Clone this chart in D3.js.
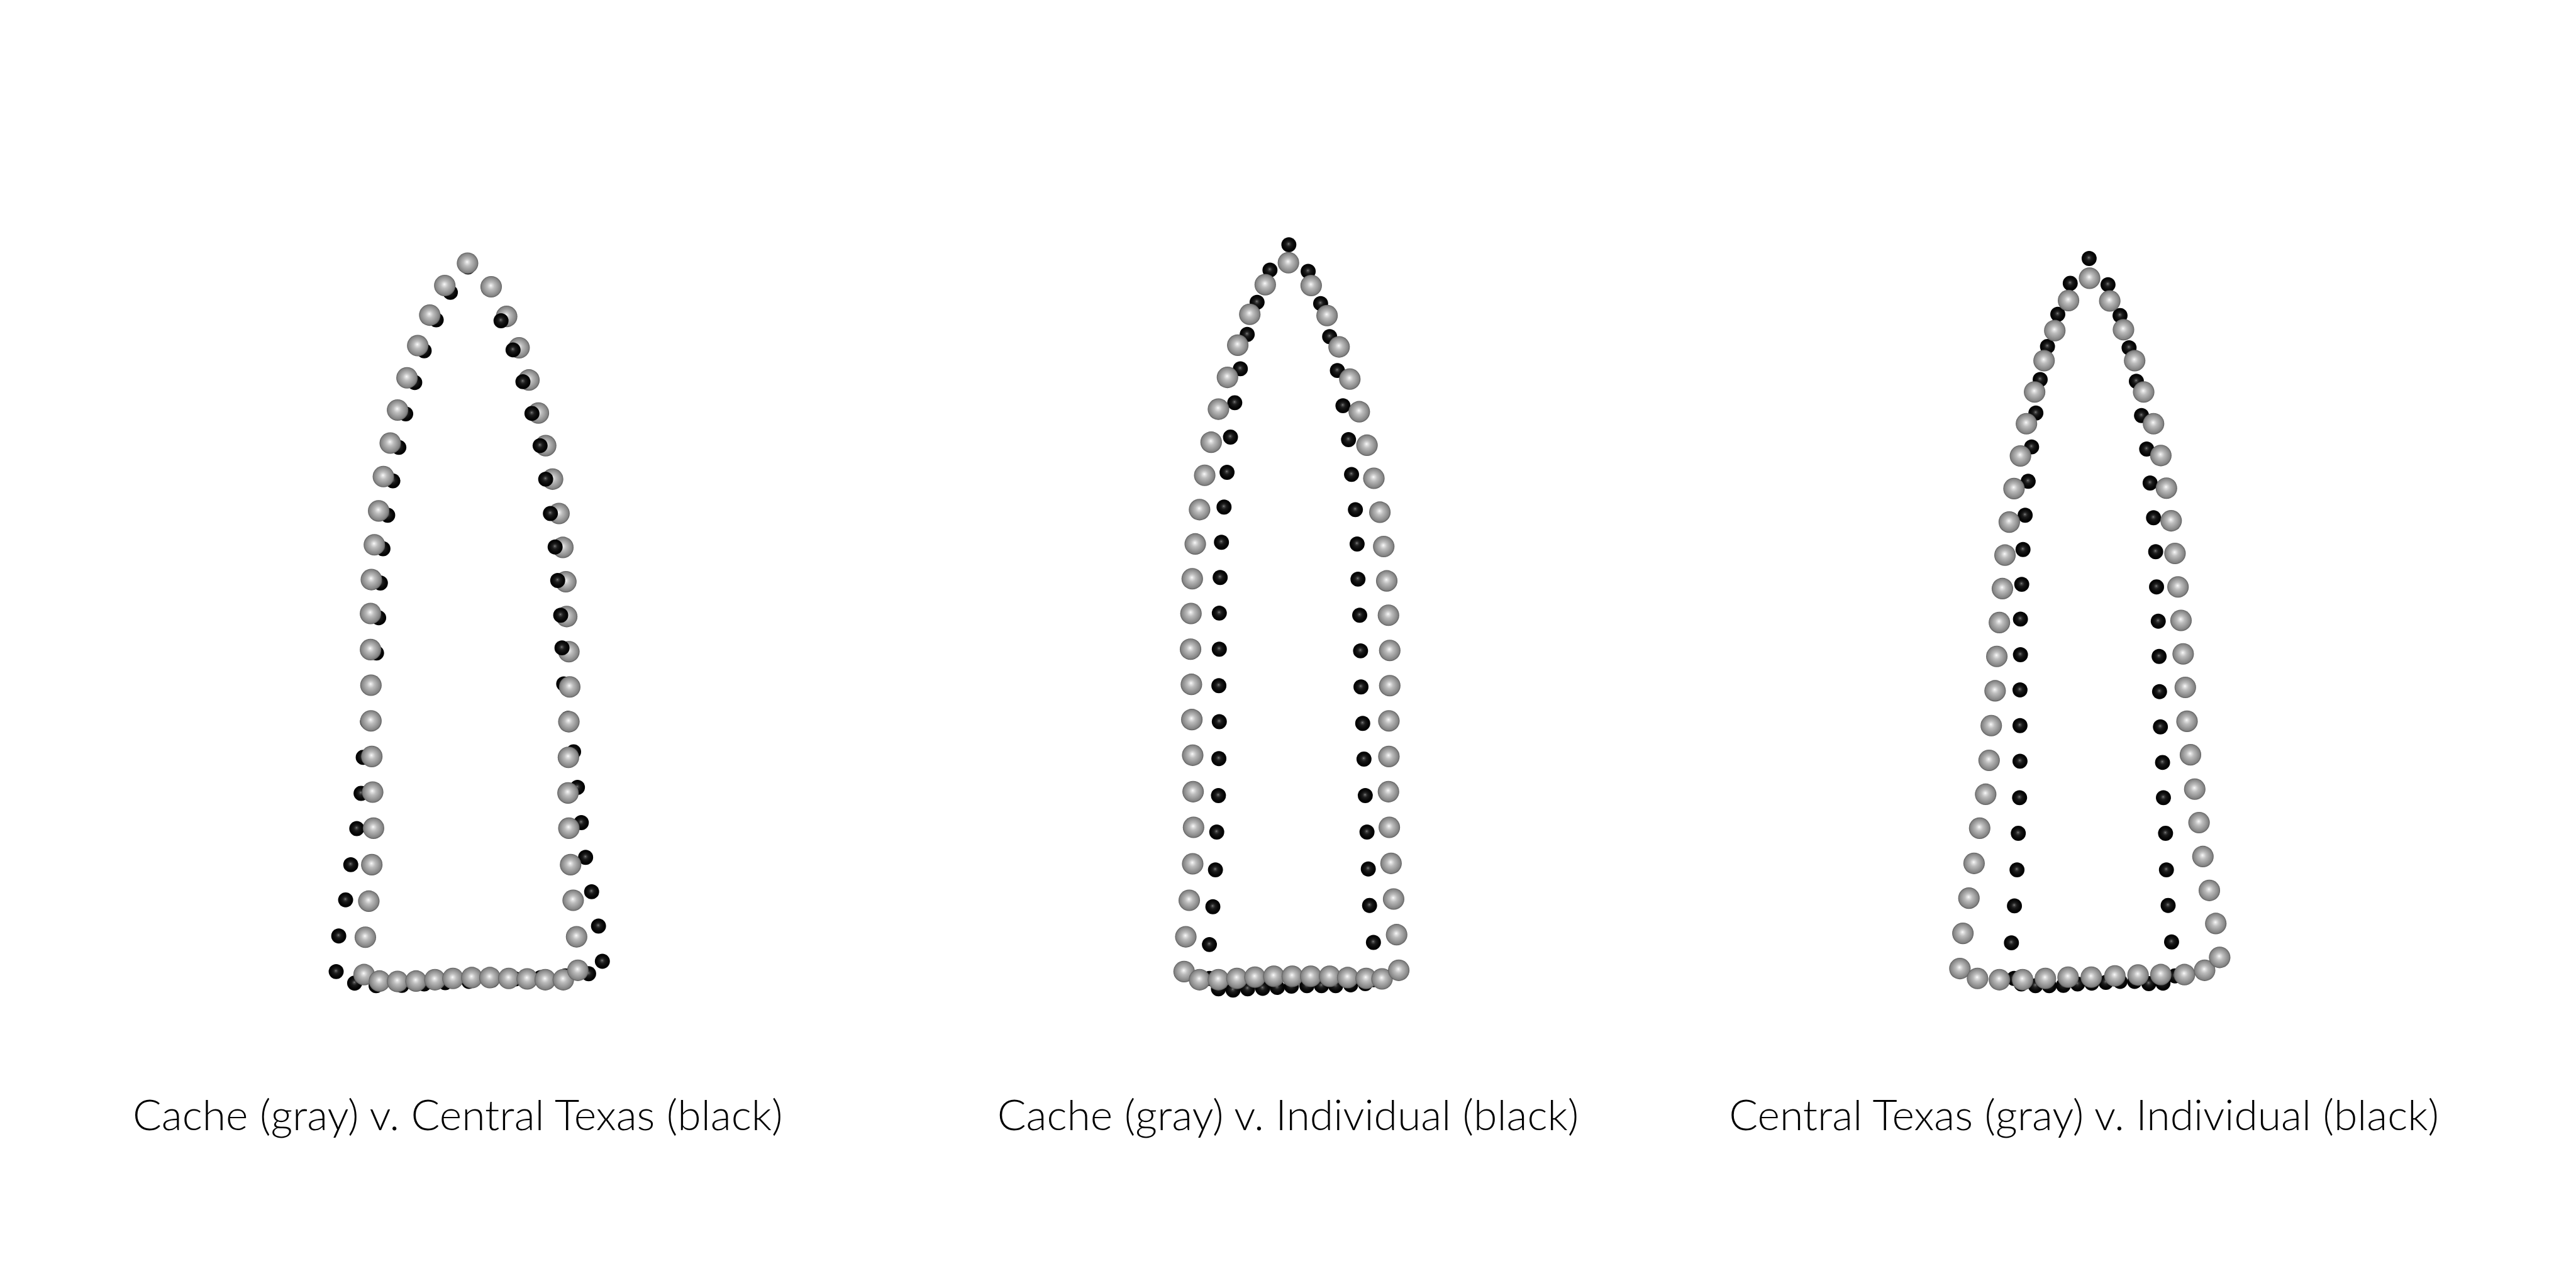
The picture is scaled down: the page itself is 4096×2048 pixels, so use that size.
<!DOCTYPE html>
<html>
<head>
<meta charset="utf-8">
<script src="https://cdn.jsdelivr.net/npm/d3@7"></script>
<style>
  html, body { margin: 0; padding: 0; background: #ffffff; }
  svg { display: block; }
</style>
</head>
<body>
<script>
// ---------------- DATA (landmark shape coordinates, outline order:
// apex, left side downwards, base left->right, right side upwards) ----------------
const panelTitles = [
  "Cache (gray) v. Central Texas (black)",
  "Cache (gray) v. Individual (black)",
  "Central Texas (gray) v. Individual (black)"
];

const p1Gray = [
  [-0.001,0.837],
  [-0.054,0.785],[-0.089,0.716],[-0.117,0.645],[-0.142,0.570],[-0.164,0.495],[-0.181,0.418],[-0.197,0.340],
  [-0.208,0.260],[-0.218,0.181],[-0.225,0.100],[-0.227,0.021],[-0.227,-0.063],[-0.226,-0.146],[-0.226,-0.229],
  [-0.224,-0.312],[-0.222,-0.395],[-0.220,-0.479],[-0.224,-0.564],[-0.231,-0.649],[-0.239,-0.733],[-0.242,-0.820],
  [-0.206,-0.835],[-0.164,-0.836],[-0.121,-0.835],[-0.077,-0.832],[-0.035,-0.829],[0.009,-0.827],[0.051,-0.827],
  [0.095,-0.829],[0.138,-0.830],[0.180,-0.832],[0.222,-0.832],
  [0.256,-0.810],[0.253,-0.732],[0.245,-0.647],[0.239,-0.564],[0.235,-0.479],[0.233,-0.397],[0.234,-0.314],
  [0.235,-0.231],[0.237,-0.150],[0.235,-0.068],[0.230,0.014],[0.228,0.095],[0.221,0.175],[0.212,0.254],
  [0.197,0.334],[0.181,0.412],[0.164,0.488],[0.142,0.565],[0.119,0.640],[0.090,0.713],[0.054,0.782]
];
const p1Black = [
  [0.000,0.828],
  [-0.041,0.769],[-0.074,0.705],[-0.102,0.633],[-0.124,0.559],[-0.145,0.486],[-0.161,0.408],[-0.175,0.330],
  [-0.187,0.250],[-0.198,0.172],[-0.204,0.092],[-0.208,0.011],[-0.213,-0.071],[-0.224,-0.150],[-0.234,-0.231],
  [-0.244,-0.314],[-0.249,-0.398],[-0.259,-0.480],[-0.273,-0.564],[-0.285,-0.646],[-0.301,-0.730],[-0.307,-0.813],
  [-0.264,-0.840],[-0.214,-0.846],[-0.154,-0.845],[-0.102,-0.842],[-0.053,-0.839],[0.002,-0.836],[0.056,-0.833],
  [0.110,-0.830],[0.169,-0.827],[0.227,-0.823],[0.281,-0.818],
  [0.313,-0.789],[0.304,-0.707],[0.288,-0.627],[0.274,-0.547],[0.264,-0.466],[0.255,-0.384],[0.246,-0.301],
  [0.233,-0.223],[0.223,-0.143],[0.219,-0.059],[0.216,0.017],[0.209,0.098],[0.203,0.176],[0.192,0.254],
  [0.181,0.334],[0.168,0.412],[0.149,0.487],[0.128,0.561],[0.105,0.635],[0.077,0.703],[0.048,0.778]
];

const p2Gray = [
  [0.001,0.838],
  [-0.053,0.787],[-0.089,0.718],[-0.117,0.646],[-0.141,0.571],[-0.162,0.497],[-0.179,0.420],[-0.194,0.343],
  [-0.206,0.263],[-0.216,0.183],[-0.223,0.102],[-0.226,0.021],[-0.227,-0.062],[-0.225,-0.144],[-0.224,-0.226],
  [-0.222,-0.309],[-0.221,-0.394],[-0.220,-0.477],[-0.222,-0.562],[-0.230,-0.647],[-0.238,-0.732],[-0.242,-0.813],
  [-0.206,-0.832],[-0.162,-0.832],[-0.119,-0.829],[-0.077,-0.826],[-0.033,-0.824],[0.010,-0.824],[0.053,-0.824],
  [0.097,-0.824],[0.139,-0.827],[0.182,-0.829],[0.219,-0.830],
  [0.258,-0.810],[0.253,-0.727],[0.246,-0.644],[0.240,-0.561],[0.236,-0.477],[0.234,-0.394],[0.235,-0.312],
  [0.235,-0.229],[0.237,-0.147],[0.237,-0.065],[0.234,0.017],[0.230,0.097],[0.223,0.177],[0.214,0.257],
  [0.200,0.336],[0.184,0.413],[0.166,0.491],[0.144,0.567],[0.119,0.642],[0.091,0.715],[0.054,0.785]
];
const p2Black = [
  [0.002,0.880],
  [-0.042,0.821],[-0.072,0.746],[-0.095,0.671],[-0.111,0.591],[-0.124,0.512],[-0.134,0.432],[-0.142,0.350],
  [-0.149,0.269],[-0.155,0.187],[-0.158,0.105],[-0.160,0.022],[-0.160,-0.062],[-0.161,-0.147],[-0.160,-0.231],
  [-0.161,-0.317],[-0.162,-0.403],[-0.166,-0.488],[-0.169,-0.576],[-0.175,-0.662],[-0.183,-0.750],[-0.183,-0.829],
  [-0.162,-0.853],[-0.128,-0.856],[-0.094,-0.853],[-0.059,-0.852],[-0.025,-0.850],[0.008,-0.847],[0.044,-0.846],
  [0.078,-0.846],[0.111,-0.846],[0.146,-0.844],[0.180,-0.841],
  [0.199,-0.832],[0.199,-0.745],[0.190,-0.659],[0.187,-0.574],[0.184,-0.488],[0.180,-0.403],[0.177,-0.318],
  [0.174,-0.235],[0.170,-0.150],[0.169,-0.066],[0.167,0.017],[0.163,0.101],[0.161,0.183],[0.157,0.263],
  [0.148,0.345],[0.141,0.426],[0.128,0.505],[0.115,0.587],[0.097,0.666],[0.076,0.743],[0.047,0.818]
];

const p3Gray = [
  [-0.001,0.802],
  [-0.050,0.750],[-0.082,0.680],[-0.107,0.610],[-0.129,0.537],[-0.148,0.463],[-0.162,0.388],[-0.177,0.312],
  [-0.188,0.234],[-0.198,0.157],[-0.204,0.079],[-0.211,0.000],[-0.217,-0.079],[-0.221,-0.159],[-0.230,-0.240],
  [-0.235,-0.321],[-0.243,-0.400],[-0.257,-0.479],[-0.270,-0.561],[-0.282,-0.642],[-0.296,-0.724],[-0.303,-0.806],
  [-0.262,-0.829],[-0.211,-0.832],[-0.157,-0.832],[-0.104,-0.829],[-0.051,-0.826],[0.003,-0.826],[0.058,-0.823],
  [0.112,-0.821],[0.165,-0.820],[0.220,-0.820],[0.267,-0.810],
  [0.302,-0.780],[0.293,-0.701],[0.278,-0.624],[0.263,-0.545],[0.254,-0.466],[0.244,-0.388],[0.234,-0.308],
  [0.226,-0.230],[0.222,-0.151],[0.217,-0.073],[0.212,0.005],[0.205,0.083],[0.198,0.161],[0.189,0.237],
  [0.178,0.313],[0.165,0.389],[0.148,0.463],[0.125,0.537],[0.104,0.610],[0.078,0.682],[0.046,0.749]
];
const p3Black = [
  [-0.002,0.848],
  [-0.046,0.790],[-0.075,0.718],[-0.099,0.643],[-0.116,0.566],[-0.126,0.488],[-0.136,0.409],[-0.144,0.329],
  [-0.151,0.250],[-0.156,0.170],[-0.159,0.089],[-0.162,0.008],[-0.162,-0.075],[-0.163,-0.157],[-0.163,-0.240],
  [-0.163,-0.323],[-0.164,-0.408],[-0.167,-0.491],[-0.170,-0.576],[-0.176,-0.660],[-0.183,-0.746],[-0.177,-0.829],
  [-0.160,-0.842],[-0.127,-0.846],[-0.095,-0.846],[-0.062,-0.845],[-0.029,-0.842],[0.004,-0.840],[0.037,-0.838],
  [0.070,-0.836],[0.104,-0.836],[0.137,-0.841],[0.170,-0.840],
  [0.198,-0.823],[0.190,-0.744],[0.182,-0.659],[0.178,-0.576],[0.176,-0.491],[0.171,-0.408],[0.169,-0.326],
  [0.164,-0.243],[0.162,-0.161],[0.161,-0.079],[0.159,0.003],[0.155,0.083],[0.153,0.165],[0.148,0.244],
  [0.140,0.325],[0.132,0.404],[0.120,0.482],[0.108,0.562],[0.091,0.640],[0.070,0.715],[0.042,0.787]
];

// ---------------- LAYOUT (reference pixel space 6000x3000, scaled) ----------------
const W = 4096, H = 2048;
const K = W / 6000;                  // 0.6827
const panelCentersX = [1090, 3000, 4868];   // reference px
const panelCenterY = 1450;
const unitPx = 1000;                 // reference px per shape unit
const titleDx = [-24, 0, -14];       // title centre offset from panel centre (reference px)
const titleBaseline = 2632;          // reference px
const grayR = 25 * K, blackR = 17.5 * K;
// black landmarks rendered in front of the gray ones (depth order of the 3D view)
const blackInFront = [null, new Set([42,43,44,45,46,47,48,49,50,51,52]), null, null];

const panels = [
  { gray: p1Gray, black: p1Black, front: blackInFront[1] },
  { gray: p2Gray, black: p2Black, front: null },
  { gray: p3Gray, black: p3Black, front: null }
];

const svg = d3.select("body").append("svg")
  .attr("width", W).attr("height", H)
  .attr("viewBox", `0 0 ${W} ${H}`);

svg.append("rect").attr("width", W).attr("height", H).attr("fill", "#ffffff");

const defs = svg.append("defs");
const gG = defs.append("radialGradient").attr("id", "sphGray")
  .attr("cx", "50%").attr("cy", "50%").attr("r", "50%").attr("fx", "48%").attr("fy", "44%");
[[0, "#fbfbfb"], [0.12, "#e2e2e2"], [0.35, "#bcbcbc"], [0.65, "#9c9c9c"], [0.88, "#838383"], [1, "#5c5c5c"]]
  .forEach(([o, c]) => gG.append("stop").attr("offset", o).attr("stop-color", c));
const gB = defs.append("radialGradient").attr("id", "sphBlack")
  .attr("cx", "50%").attr("cy", "50%").attr("r", "50%").attr("fx", "48%").attr("fy", "44%");
[[0, "#8c8c8c"], [0.12, "#4a4a4a"], [0.35, "#1c1c1c"], [0.7, "#080808"], [1, "#000000"]]
  .forEach(([o, c]) => gB.append("stop").attr("offset", o).attr("stop-color", c));

panels.forEach((p, i) => {
  const cx = panelCentersX[i];
  const x = d3.scaleLinear().domain([-1, 1]).range([(cx - unitPx) * K, (cx + unitPx) * K]);
  const y = d3.scaleLinear().domain([-1, 1]).range([(panelCenterY + unitPx) * K, (panelCenterY - unitPx) * K]);
  const g = svg.append("g").attr("class", "panel-" + (i + 1));

  const blackData = p.black.map((d, j) => ({ d, j }));
  const behind = blackData.filter(o => !(p.front && p.front.has(o.j)));
  const front = blackData.filter(o => p.front && p.front.has(o.j));

  g.append("g").selectAll("circle").data(behind).join("circle")
    .attr("cx", o => x(o.d[0])).attr("cy", o => y(o.d[1])).attr("r", blackR)
    .attr("fill", "url(#sphBlack)");

  g.append("g").selectAll("circle").data(p.gray).join("circle")
    .attr("cx", d => x(d[0])).attr("cy", d => y(d[1])).attr("r", grayR)
    .attr("fill", "url(#sphGray)");

  g.append("g").selectAll("circle").data(front).join("circle")
    .attr("cx", o => x(o.d[0])).attr("cy", o => y(o.d[1])).attr("r", blackR)
    .attr("fill", "url(#sphBlack)");

  const tx = d3.scaleLinear().domain([0, 1]).range([cx * K, (cx + 1) * K]);
  svg.append("text")
    .attr("x", tx(titleDx[i]))
    .attr("y", titleBaseline * K)
    .attr("text-anchor", "middle")
    .attr("font-family", "Lato, 'Open Sans', sans-serif")
    .attr("font-weight", 300)
    .attr("font-size", 99.5 * K)
    .attr("fill", "#000000")
    .text(panelTitles[i]);
});
</script>
</body>
</html>
